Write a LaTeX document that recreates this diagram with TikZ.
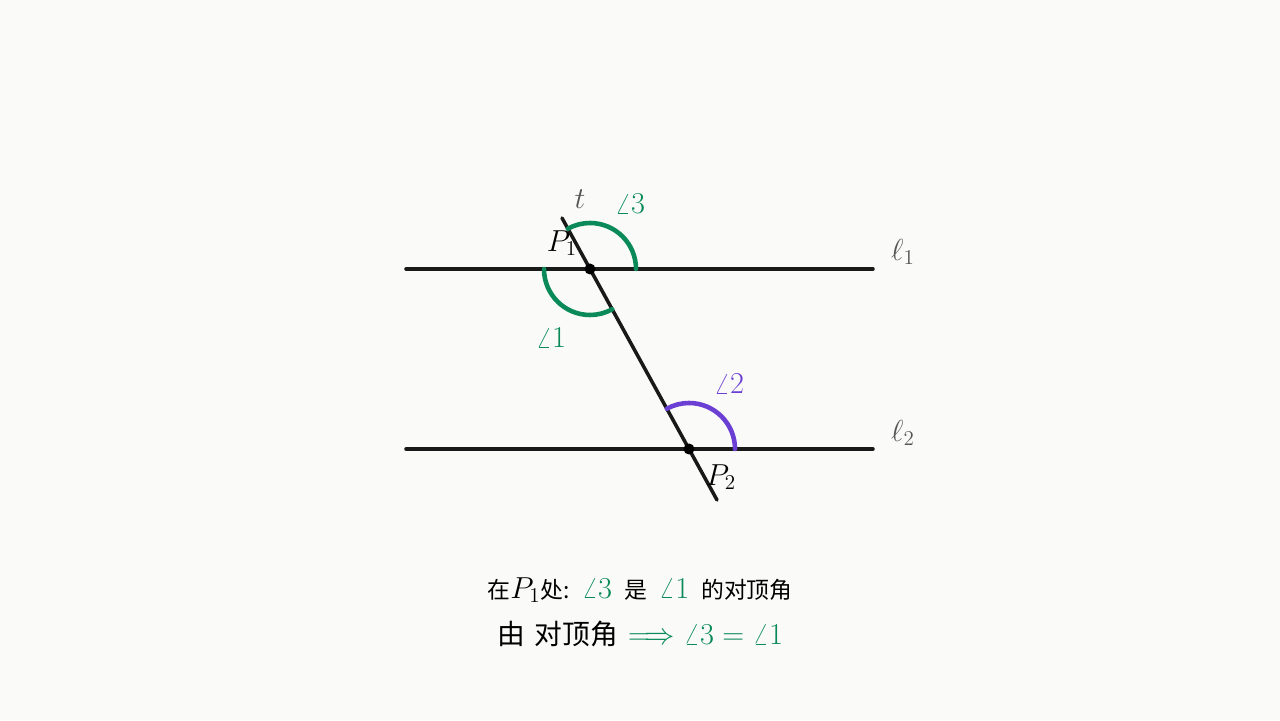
\documentclass[tikz,border=0pt]{standalone}
\usepackage{fontspec}
\newfontfamily\cjk{Noto Sans CJK SC}
\newcommand\zha[1]{{\fontsize{13}{15}\selectfont\cjk #1}}
\newcommand\zhb[1]{{\fontsize{15.8}{18}\selectfont\cjk #1}}
\newcommand\gap{\hspace{0.4em}}
\definecolor{bgcol}{HTML}{FAFAF8}
\definecolor{angA}{HTML}{0A8A58}
\definecolor{angB}{HTML}{6B3FD4}
\definecolor{lbl}{HTML}{555555}
\begin{document}
\begin{tikzpicture}[line join=round, line cap=round, font=\fontsize{17.5}{20}\selectfont,
    ln/.style={line width=2pt, black!90},
    arcA/.style={line width=2.6pt, angA},
    arcB/.style={line width=2.6pt, angB},
    anglbl/.style={font=\fontsize{18.5}{21}\selectfont}]
    \fill[bgcol] (0,0) rectangle (25.6,14.4);
    \useasboundingbox (0,0) rectangle (25.6,14.4);
    \def\xl{8.12} \def\xr{17.46}
    \def\ya{9.02} \def\yb{5.42}
    \def\r{0.92}
    \coordinate (P1) at (11.8,\ya);
    \coordinate (P2) at (13.78,\yb);
    \coordinate (L1w) at (\xl,\ya); \coordinate (L1e) at (\xr,\ya);
    \coordinate (L2w) at (\xl,\yb); \coordinate (L2e) at (\xr,\yb);
    \coordinate (Ttop) at (11.24,10.04);
    \coordinate (Tbot) at (14.34,4.40);
    % parallel lines and transversal
    \draw[ln] (L1w)--(L1e);
    \draw[ln] (L2w)--(L2e);
    \draw[ln] (Ttop)--(Tbot);
    % angles
    \draw[arcA] ([shift={(0:\r)}]P1) arc (0:118.8:\r);
    \draw[arcA] ([shift={(180:\r)}]P1) arc (180:298.8:\r);
    \draw[arcB] ([shift={(0:\r)}]P2) arc (0:118.8:\r);
    \fill (P1) circle (0.11);
    \fill (P2) circle (0.11);
    % labels
    \node[lbl] (t) at (11.6,10.42) {$t$};
    \node[lbl] (l1) at (18.06,9.36) {$\ell_1$};
    \node[lbl] (l2) at (18.06,5.74) {$\ell_2$};
    \node (p1) at (11.24,9.54) {$P_1$};
    \node (p2) at (14.42,4.86) {$P_2$};
    \node[anglbl, angA] (a3) at (12.6,10.32) {$\angle 3$};
    \node[anglbl, angA] (a1) at (11.02,7.64) {$\angle 1$};
    \node[anglbl, angB] (a2) at (14.58,6.72) {$\angle 2$};
    \node[font=\fontsize{17}{20}\selectfont] (line1) at (12.8,2.6)
        {\zha{在}$P_1$\zha{处:}\gap{\color{angA}$\angle 3$}\gap\zha{是}\gap{\color{angA}$\angle 1$}\gap\zha{的对顶角}};
    \node[font=\fontsize{18.8}{21}\selectfont] (line2) at (12.8,1.72)
        {\zhb{由}\ \zhb{对顶角}\ {\color{angA}$\Longrightarrow \angle 3 = \angle 1$}};
\end{tikzpicture}
\end{document}
